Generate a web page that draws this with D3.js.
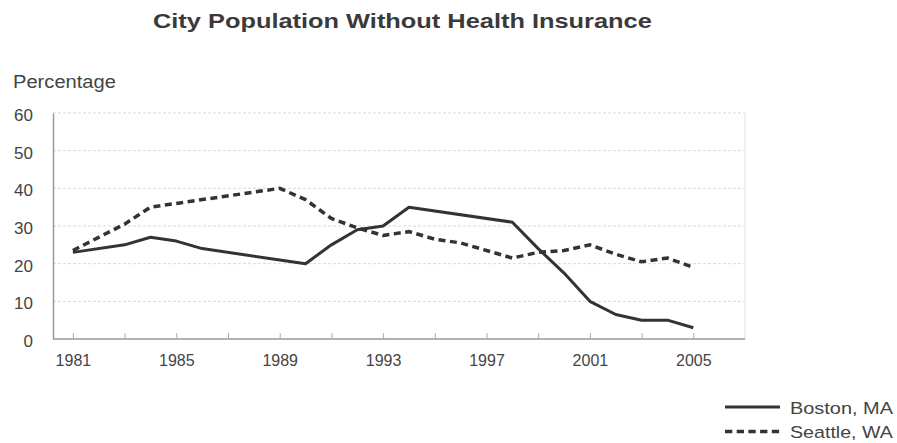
<!DOCTYPE html>
<html>
<head>
<meta charset="utf-8">
<script src="https://cdn.jsdelivr.net/npm/d3@7"></script>
<style>
  html, body { margin: 0; padding: 0; background: #fff; }
  svg { display: block; font-family: "Liberation Sans", Arial, sans-serif; }
</style>
</head>
<body>
<svg id="chart" width="897" height="443"></svg>
<script>
// Share of city residents without health insurance (%)
const bostonYears  = [1981, 1983, 1984, 1985, 1986, 1990, 1991, 1992, 1993, 1994, 1998, 1999, 2000, 2001, 2002, 2003, 2004, 2005];
const bostonValues = [23, 25, 27, 26, 24, 20, 25, 29, 30, 35, 31, 24, 17.5, 10, 6.5, 5, 5, 3];

const seattleYears  = [1981, 1983, 1984, 1985, 1989, 1990, 1991, 1992, 1993, 1994, 1995, 1996, 1997, 1998, 1999, 2000, 2001, 2002, 2003, 2004, 2005];
const seattleValues = [23.5, 30.5, 35, 36, 40, 37, 32, 29.5, 27.5, 28.5, 26.5, 25.5, 23.5, 21.5, 23, 23.5, 25, 22.5, 20.5, 21.5, 19];

const yTicks = [0, 10, 20, 30, 40, 50, 60];
const xTickMarks = [1981, 1983, 1985, 1987, 1989, 1991, 1993, 1995, 1997, 1999, 2001, 2003, 2005];
const xTickLabels = [1981, 1985, 1989, 1993, 1997, 2001, 2005];

const seriesNames = ["Boston, MA", "Seattle, WA"];

const titleText = "City Population Without Health Insurance";
const yAxisTitle = "Percentage";

const svg = d3.select("#chart");
const textColor = "#444";
const lineColor = "#333";

const plot = { left: 53, right: 745, top: 113, bottom: 339 };

const x = d3.scaleLinear().domain([1980.23, 2007]).range([plot.left, plot.right]);
const y = d3.scaleLinear().domain([0, 60]).range([plot.bottom, plot.top]);

// Places a text at (tx, ty) and stretches its glyphs horizontally to span `width` px
function wideText(parent, str, tx, ty, width, attrs) {
  const g = parent.append("g");
  const t = g.append("text").attr("x", 0).attr("y", 0).text(str);
  Object.entries(attrs).forEach(([k, v]) => t.attr(k, v));
  const natural = t.node().getComputedTextLength();
  g.attr("transform", `translate(${tx},${ty}) scale(${width / natural},1)`);
  return t;
}

// Title
wideText(svg, titleText, 153, 28, 499, {
  "font-size": 19.5, "font-weight": "bold", "fill": "#3a3a3a"
});

// Y axis title
wideText(svg, yAxisTitle, 13, 88, 103, {
  "font-size": 18.5, "fill": textColor
});

// Horizontal gridlines
svg.append("g")
  .selectAll("line")
  .data(yTicks.filter(d => d > 0))
  .join("line")
  .attr("x1", plot.left).attr("x2", plot.right)
  .attr("y1", d => y(d)).attr("y2", d => y(d))
  .attr("stroke", "#d9d9d9")
  .attr("stroke-width", 1)
  .attr("stroke-dasharray", "3,2");

// Right border of plot area
svg.append("line")
  .attr("x1", plot.right).attr("x2", plot.right)
  .attr("y1", plot.top).attr("y2", plot.bottom)
  .attr("stroke", "#e2e2e2").attr("stroke-width", 1);

// Y axis
const yAxis = d3.axisLeft(y).tickValues(yTicks).tickSize(0).tickPadding(20);
const gy = svg.append("g").attr("transform", `translate(${plot.left},0)`).call(yAxis);
gy.select(".domain").attr("stroke", "#999").attr("stroke-width", 1.5);
gy.selectAll("text")
  .attr("font-size", 17)
  .attr("fill", textColor)
  .attr("font-family", "Liberation Sans, Arial, sans-serif")
  .attr("dy", "0.45em");

// X axis: tick marks every 2 years, labels every 4 years
const xAxis = d3.axisBottom(x).tickValues(xTickMarks).tickSize(-6).tickPadding(16)
  .tickFormat(d => xTickLabels.includes(d) ? String(d) : "");
const gx = svg.append("g").attr("transform", `translate(0,${plot.bottom})`).call(xAxis);
gx.select(".domain").attr("stroke", "#999").attr("stroke-width", 1.5).attr("d", `M${plot.left},0H${plot.right}`);
gx.selectAll(".tick line").attr("stroke", "#aaa").attr("stroke-width", 1);
gx.selectAll("text")
  .attr("font-size", 16)
  .attr("fill", textColor)
  .attr("font-family", "Liberation Sans, Arial, sans-serif");

// Series lines
const line = d3.line().x(d => x(d[0])).y(d => y(d[1]));

const boston = bostonYears.map((yr, i) => [yr, bostonValues[i]]);
const seattle = seattleYears.map((yr, i) => [yr, seattleValues[i]]);

svg.append("path")
  .datum(boston)
  .attr("d", line)
  .attr("fill", "none")
  .attr("stroke", lineColor)
  .attr("stroke-width", 3)
  .attr("stroke-linejoin", "round");

svg.append("path")
  .datum(seattle)
  .attr("d", line)
  .attr("fill", "none")
  .attr("stroke", lineColor)
  .attr("stroke-width", 3.5)
  .attr("stroke-dasharray", "7,4.5");

// Legend
const legend = svg.append("g");
const legendRows = [
  { name: seriesNames[0], ly: 407, ty: 413.5, dash: null, w: 3 },
  { name: seriesNames[1], ly: 431.5, ty: 437.5, dash: "7.3,4.4", w: 3.5 }
];
legendRows.forEach(r => {
  legend.append("line")
    .attr("x1", 725).attr("x2", 780)
    .attr("y1", r.ly).attr("y2", r.ly)
    .attr("stroke", lineColor)
    .attr("stroke-width", r.w)
    .attr("stroke-dasharray", r.dash);
  wideText(legend, r.name, 790, r.ty, 103, {
    "font-size": 17, "fill": textColor
  });
});
</script>
</body>
</html>
